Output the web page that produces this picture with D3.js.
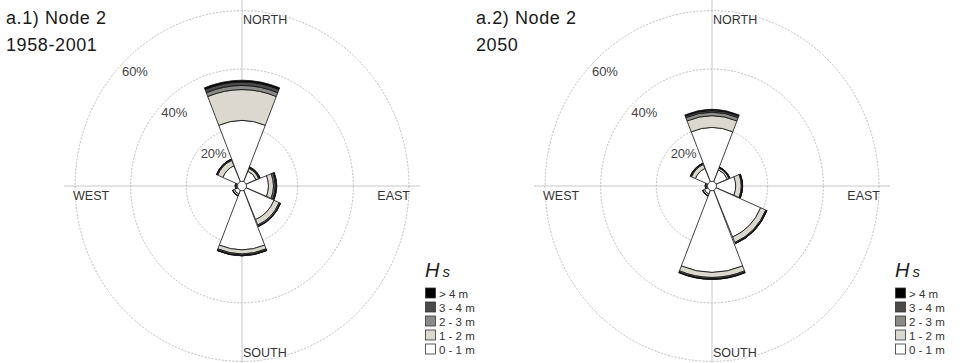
<!DOCTYPE html>
<html>
<head>
<meta charset="utf-8">
<script src="https://cdn.jsdelivr.net/npm/d3@7"></script>
<style>
  body { margin: 0; background: #fff; }
  svg { display: block; font-family: "Liberation Sans", Arial, sans-serif; }
</style>
</head>
<body>
<div id="chart"></div>
<script>
(function () {
    'use strict';

    // sectors, clockwise from north
    const directions = ["N", "NE", "E", "SE", "S", "SW", "W", "NW"];
    const compassLabels = ["NORTH", "EAST", "SOUTH", "WEST"];
    const ringTicks = [20, 40, 60];
    const hsClasses = ["0 - 1 m", "1 - 2 m", "2 - 3 m", "3 - 4 m", "> 4 m"];
    const hsColors = ["#ffffff", "#dbd8cf", "#8a8a88", "#4a4a4a", "#000000"];

    // frequency (%) per direction, 1958-2001
    const hist01 = [22.4, 5.5, 9.5, 12.5, 21.8, 3.0, 2.0, 7.5];
    const hist12 = [10.6, 1.0, 1.8, 2.0, 1.4, 0.6, 0.4, 2.0];
    const hist23 = [1.4, 0.3, 0.6, 0.4, 0.4, 0.1, 0.1, 0.3];
    const hist34 = [1.2, 0.2, 0.4, 0.15, 0.2, 0.05, 0.0, 0.15];
    const hist4p = [0.6, 0.1, 0.2, 0.05, 0.05, 0.0, 0.0, 0.05];

    // frequency (%) per direction, 2050
    const fut01 = [20.0, 6.0, 8.5, 19.0, 29.5, 3.0, 2.0, 6.5];
    const fut12 = [4.0, 0.6, 2.0, 2.0, 1.8, 0.6, 0.4, 1.5];
    const fut23 = [1.2, 0.2, 0.3, 0.3, 0.4, 0.1, 0.1, 0.3];
    const fut34 = [0.6, 0.15, 0.15, 0.15, 0.2, 0.05, 0.0, 0.15];
    const fut4p = [0.4, 0.05, 0.05, 0.05, 0.1, 0.0, 0.0, 0.05];

    const panels = [
        { title: ["a.1) Node 2", "1958-2001"], cx: 242, series: [hist01, hist12, hist23, hist34, hist4p] },
        { title: ["a.2) Node 2", "2050"], cx: 712, series: [fut01, fut12, fut23, fut34, fut4p] }
    ];

    const W = 967, H = 363;
    const cy = 186;
    const yStretch = 1.05;   // the original figure is slightly taller than wide

    const svg = d3.select("#chart").append("svg")
        .attr("width", W)
        .attr("height", H)
        .attr("viewBox", `0 0 ${W} ${H}`);

    const r = d3.scaleLinear().domain([0, 60]).range([0, 167]);
    const angle = d3.scaleBand().domain(directions).range([0, 2 * Math.PI]);
    const half = angle.bandwidth() / 2;
    const pad = 0.01;

    const arc = d3.arc();

    panels.forEach((p, pi) => {
        const g = svg.append("g");

        // titles
        g.append("text")
            .attr("x", p.cx - 236)
            .attr("y", 24)
            .attr("font-size", 18)
            .attr("letter-spacing", 0.6)
            .attr("fill", "#1a1a1a")
            .text(p.title[0]);
        g.append("text")
            .attr("x", p.cx - 236)
            .attr("y", 51)
            .attr("font-size", 18)
            .attr("letter-spacing", 0.6)
            .attr("fill", "#1a1a1a")
            .text(p.title[1]);

        const plot = g.append("g")
            .attr("transform", `translate(${p.cx},${cy}) scale(1,${yStretch})`);

        // axes
        const ext = r(64);
        plot.append("line")
            .attr("x1", -ext).attr("x2", ext).attr("y1", 0).attr("y2", 0)
            .attr("stroke", "#c8c8c8").attr("stroke-width", 1)
            .attr("vector-effect", "non-scaling-stroke");
        plot.append("line")
            .attr("x1", 0).attr("x2", 0).attr("y1", -ext).attr("y2", ext)
            .attr("stroke", "#c8c8c8").attr("stroke-width", 1)
            .attr("vector-effect", "non-scaling-stroke");

        // rings
        plot.selectAll("circle.ring")
            .data(ringTicks)
            .enter()
            .append("circle")
            .attr("class", "ring")
            .attr("r", d => r(d))
            .attr("fill", "none")
            .attr("stroke", "#b4b4b4")
            .attr("stroke-width", 0.9)
            .attr("stroke-dasharray", "2,1.5")
            .attr("vector-effect", "non-scaling-stroke");

        // stacked petals
        const stacked = directions.map((dir, i) => {
            let acc = 0;
            return p.series.map((s, k) => {
                const seg = { dir: dir, k: k, r0: acc, r1: acc + s[i] };
                acc += s[i];
                return seg;
            });
        });

        const petals = plot.selectAll("g.petal")
            .data(stacked)
            .enter()
            .append("g")
            .attr("class", "petal");

        petals.selectAll("path")
            .data(d => d.filter(s => s.r1 > s.r0))
            .enter()
            .append("path")
            .attr("d", s => {
                const a = angle(s.dir) - half;
                return arc({
                    innerRadius: r(s.r0),
                    outerRadius: r(s.r1),
                    startAngle: a + pad,
                    endAngle: a + 2 * half - pad
                });
            })
            .attr("fill", s => hsColors[s.k])
            .attr("stroke", "#111")
            .attr("stroke-width", 0.8)
            .attr("stroke-linejoin", "round")
            .attr("vector-effect", "non-scaling-stroke");

        plot.append("circle")
            .attr("r", 4.5)
            .attr("fill", "#fff")
            .attr("stroke", "#111")
            .attr("stroke-width", 0.8)
            .attr("vector-effect", "non-scaling-stroke");

        // ring labels at the north-west of each circle
        g.selectAll("text.ringlab")
            .data(ringTicks)
            .enter()
            .append("text")
            .attr("class", "ringlab")
            .attr("x", d => p.cx - r(d) * Math.SQRT1_2 - 2)
            .attr("y", d => cy - r(d) * Math.SQRT1_2 * yStretch + 13.5)
            .attr("font-size", 13)
            .attr("fill", "#444")
            .attr("stroke", "#fff")
            .attr("stroke-width", 3)
            .attr("paint-order", "stroke")
            .text(d => d + "%");

        // compass labels
        const outer = r(60);
        const compassPos = [
            { x: p.cx + 1, y: 24, anchor: "start" },
            { x: p.cx + outer + 1, y: cy + 14, anchor: "end" },
            { x: p.cx + 1, y: 357, anchor: "start" },
            { x: p.cx - outer - 2, y: cy + 14, anchor: "start" }
        ];
        g.selectAll("text.compass")
            .data(compassLabels)
            .enter()
            .append("text")
            .attr("class", "compass")
            .attr("x", (d, i) => compassPos[i].x)
            .attr("y", (d, i) => compassPos[i].y)
            .attr("text-anchor", (d, i) => compassPos[i].anchor)
            .attr("font-size", 12.5)
            .attr("fill", "#333")
            .attr("stroke", "#fff")
            .attr("stroke-width", 2)
            .attr("paint-order", "stroke")
            .text(d => d);

        // legend
        const lx = p.cx + 183;
        const lg = g.append("g").attr("transform", `translate(${lx},0)`);
        const hs = lg.append("text")
            .attr("x", 0)
            .attr("y", 277)
            .attr("font-style", "italic")
            .attr("fill", "#222");
        hs.append("tspan").attr("font-size", 20).text("H");
        hs.append("tspan").attr("font-size", 15).attr("dx", 3).text("s");

        const rows = hsClasses.slice().reverse();
        const rowY = d3.scaleBand().domain(rows).range([287, 357]);
        const items = lg.selectAll("g.item")
            .data(rows)
            .enter()
            .append("g")
            .attr("class", "item")
            .attr("transform", d => `translate(0,${rowY(d)})`);
        items.append("rect")
            .attr("x", 0.5)
            .attr("y", 1)
            .attr("width", 10)
            .attr("height", 10)
            .attr("fill", d => hsColors[hsClasses.indexOf(d)])
            .attr("stroke", "#333")
            .attr("stroke-width", 0.8);
        items.append("text")
            .attr("x", 14)
            .attr("y", 10.5)
            .attr("font-size", 11.5)
            .attr("fill", "#333")
            .text(d => d);
    });
})();
</script>
</body>
</html>
